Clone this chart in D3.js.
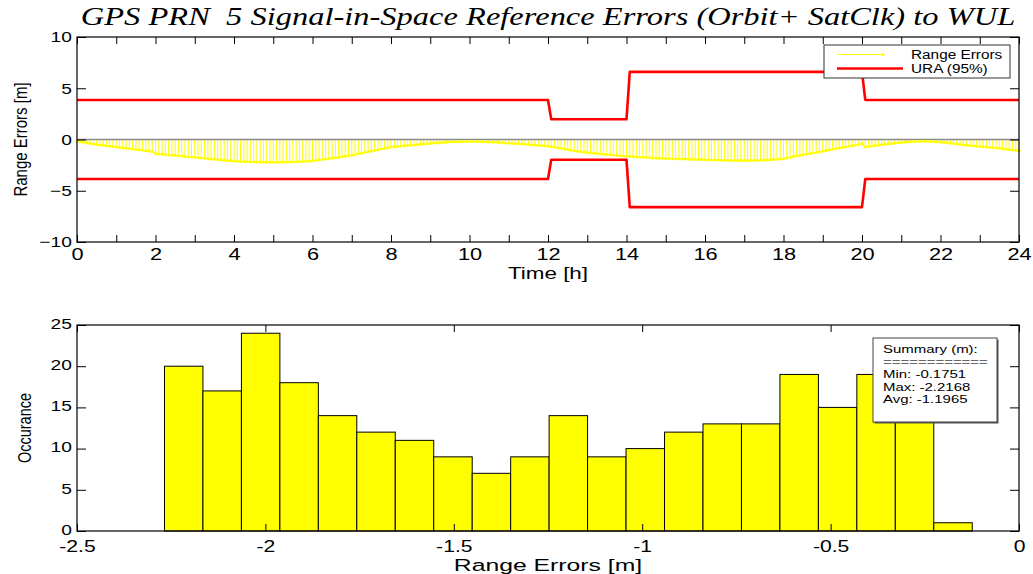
<!DOCTYPE html>
<html>
<head>
<meta charset="utf-8">
<script src="https://cdn.jsdelivr.net/npm/d3@7"></script>
<style>
  body { margin: 0; background: #fff; }
  svg { display: block; }
  text { font-family: "Liberation Sans", Arial, sans-serif; fill: #000; white-space: pre; }
</style>
</head>
<body>
<svg id="chart" width="1033" height="574"></svg>
<script>
// ---- data ----
const chartTitle = "GPS PRN  5 Signal-in-Space Reference Errors (Orbit+ SatClk) to WUL";

// Range errors [m], one sample every 5 minutes from 00:00 to 24:00
const sampleMinutes = 5;
const rangeErrors = [
  -0.18,-0.23,-0.28,-0.33,-0.38,-0.43,-0.48,-0.53,-0.57,-0.61,-0.65,-0.69,
  -0.73,-0.77,-0.81,-0.85,-0.89,-0.93,-0.97,-1.01,-1.05,-1.09,-1.13,-1.17,
  -1.38,-1.41,-1.44,-1.47,-1.50,-1.53,-1.56,-1.59,-1.62,-1.65,-1.68,-1.71,
  -1.74,-1.77,-1.81,-1.84,-1.87,-1.90,-1.93,-1.96,-1.99,-2.02,-2.05,-2.08,
  -2.10,-2.12,-2.14,-2.15,-2.16,-2.17,-2.18,-2.19,-2.20,-2.20,-2.21,-2.21,
  -2.2168,-2.21,-2.21,-2.20,-2.20,-2.19,-2.18,-2.17,-2.16,-2.15,-2.13,-2.11,
  -2.08,-2.05,-1.98,-1.95,-1.91,-1.87,-1.83,-1.78,-1.73,-1.68,-1.63,-1.58,
  -1.53,-1.46,-1.40,-1.33,-1.27,-1.20,-1.13,-1.07,-1.00,-0.93,-0.87,-0.80,
  -0.74,-0.71,-0.68,-0.65,-0.62,-0.59,-0.56,-0.53,-0.50,-0.47,-0.44,-0.41,
  -0.38,-0.35,-0.33,-0.31,-0.29,-0.27,-0.25,-0.23,-0.22,-0.21,-0.20,-0.19,
  -0.19,-0.19,-0.19,-0.20,-0.21,-0.22,-0.24,-0.26,-0.28,-0.30,-0.32,-0.34,
  -0.36,-0.38,-0.40,-0.42,-0.44,-0.46,-0.48,-0.50,-0.53,-0.56,-0.59,-0.62,
  -0.65,-0.70,-0.75,-0.80,-0.86,-0.92,-0.98,-1.04,-1.09,-1.14,-1.19,-1.24,
  -1.28,-1.31,-1.34,-1.37,-1.40,-1.43,-1.46,-1.49,-1.52,-1.55,-1.58,-1.61,
  -1.64,-1.66,-1.68,-1.70,-1.72,-1.74,-1.76,-1.78,-1.80,-1.82,-1.83,-1.84,
  -1.85,-1.86,-1.87,-1.88,-1.89,-1.90,-1.91,-1.92,-1.93,-1.94,-1.95,-1.96,
  -1.97,-1.98,-1.99,-2.00,-2.01,-2.02,-2.03,-2.04,-2.04,-2.05,-2.05,-2.05,
  -2.05,-2.05,-2.05,-2.04,-2.04,-2.03,-2.02,-2.00,-1.98,-1.96,-1.93,-1.90,
  -1.87,-1.80,-1.73,-1.66,-1.61,-1.55,-1.49,-1.43,-1.37,-1.31,-1.26,-1.20,
  -1.14,-1.08,-1.02,-0.96,-0.90,-0.84,-0.78,-0.73,-0.67,-0.61,-0.55,-0.48,
  -0.42,-0.74,-0.69,-0.64,-0.59,-0.55,-0.51,-0.47,-0.43,-0.39,-0.35,-0.32,
  -0.29,-0.26,-0.24,-0.22,-0.20,-0.19,-0.18,-0.1751,-0.18,-0.19,-0.21,-0.23,
  -0.26,-0.29,-0.32,-0.36,-0.40,-0.44,-0.48,-0.52,-0.56,-0.59,-0.62,-0.65,
  -0.68,-0.71,-0.74,-0.77,-0.80,-0.83,-0.86,-0.90,-0.94,-0.98,-1.02,-1.06,
  -1.10
];

// URA (95%) bound [m]: breakpoints in hours and the bound value
const uraHours  = [0, 12.0, 12.083, 14.0, 14.083, 20.0, 20.083, 24];
const uraValues = [3.86, 3.86, 1.97, 1.97, 6.6, 6.6, 3.86, 3.86];

// Histogram of range errors
const histCenters = [-2.2168,-2.1147,-2.0126,-1.9105,-1.8085,-1.7064,-1.6043,
  -1.5022,-1.4001,-1.2980,-1.1960,-1.0939,-0.9918,-0.8897,-0.7876,-0.6855,
  -0.5834,-0.4814,-0.3793,-0.2772,-0.1751];
const histCounts = [20,17,24,18,14,12,11,9,7,9,14,9,10,12,13,13,19,15,19,22,1];

const legendLabels = ["Range Errors", "URA (95%)"];
const summaryLines = ["Summary (m):", "============", "Min: -0.1751", "Max: -2.2168", "Avg: -1.1965"];

const topXTicks = d3.range(0, 25, 1);
const topYTicks = [-10, -5, 0, 5, 10];
const botXTicks = [-2.5, -2, -1.5, -1, -0.5, 0];
const botYTicks = [0, 5, 10, 15, 20, 25];

// ---- layout ----
const svg = d3.select("#chart");
const SX = 1.28;               // horizontal text stretch
const left = 77, right = 1019;
const top1 = { y0: 37, y1: 242 };
const top2 = { y0: 325, y1: 531 };

const yellow = "#ffff00", red = "#ff0000";

function stretch(sel) { sel.attr("transform", `scale(${SX},1)`); }

// ---- title ----
svg.append("text")
  .attr("transform", `translate(${(left + right) / 2},25) scale(1.3,1)`)
  .attr("text-anchor", "middle")
  .style("font-family", "'Liberation Serif', 'Times New Roman', serif")
  .style("font-style", "italic")
  .style("font-size", "25px")
  .text(chartTitle);

// ================= time series panel =================
const x1 = d3.scaleLinear().domain([0, 24]).range([left, right]);
const y1 = d3.scaleLinear().domain([-10, 10]).range([top1.y1, top1.y0]);
const g1 = svg.append("g");

const samples = rangeErrors.map((v, i) => ({ t: i * sampleMinutes / 60, v }));

// stems
g1.append("g").selectAll("line").data(samples).join("line")
  .attr("x1", d => x1(d.t)).attr("x2", d => x1(d.t))
  .attr("y1", y1(0)).attr("y2", d => y1(d.v))
  .attr("stroke", yellow).attr("stroke-width", 1);

// stem baseline
g1.append("line")
  .attr("x1", left).attr("x2", right)
  .attr("y1", y1(0)).attr("y2", y1(0))
  .attr("stroke", "#8a8a8a").attr("stroke-width", 1.5);

// error line with point markers
g1.append("path").datum(samples)
  .attr("d", d3.line().x(d => x1(d.t)).y(d => y1(d.v)))
  .attr("fill", "none").attr("stroke", yellow).attr("stroke-width", 1.5);
g1.append("g").selectAll("circle").data(samples).join("circle")
  .attr("cx", d => x1(d.t)).attr("cy", d => y1(d.v)).attr("r", 1.5)
  .attr("fill", yellow);

// URA bounds (+/-)
const uraPts = uraHours.map((h, i) => ({ t: h, v: uraValues[i] }));
const uraLine = d3.line().x(d => x1(d.t));
[1, -1].forEach(s => {
  g1.append("path").datum(uraPts)
    .attr("d", uraLine.y(d => y1(s * d.v)))
    .attr("fill", "none").attr("stroke", red).attr("stroke-width", 2.6)
    .attr("stroke-linejoin", "round");
});

// axes
function axisStyle(g) {
  g.select(".domain").remove();
  g.selectAll(".tick line").attr("stroke", "#000");
  g.selectAll(".tick text").call(stretch);
}
g1.append("g").attr("transform", `translate(0,${top1.y1})`)
  .call(d3.axisBottom(x1).tickValues(topXTicks).tickSize(-7).tickPadding(6)
    .tickFormat(d => d % 2 === 0 ? d : ""))
  .call(axisStyle)
  .call(g => g.selectAll("text").style("font-size", "17px"));
g1.append("g").attr("transform", `translate(0,${top1.y0})`)
  .call(d3.axisTop(x1).tickValues(topXTicks).tickSize(-7).tickFormat(""))
  .call(axisStyle);
g1.append("g").attr("transform", `translate(${left},0)`)
  .call(d3.axisLeft(y1).tickValues(topYTicks).tickSize(-9).tickPadding(4))
  .call(axisStyle)
  .call(g => g.selectAll("text").style("font-size", "15px"));
g1.append("g").attr("transform", `translate(${right},0)`)
  .call(d3.axisRight(y1).tickValues(topYTicks).tickSize(-9).tickFormat(""))
  .call(axisStyle);
g1.append("rect")
  .attr("x", left).attr("y", top1.y0)
  .attr("width", right - left).attr("height", top1.y1 - top1.y0)
  .attr("fill", "none").attr("stroke", "#000").attr("stroke-width", 1.2);

// axis labels
svg.append("text")
  .attr("transform", `translate(${(left + right) / 2},279) scale(1.4,1)`)
  .attr("text-anchor", "middle").style("font-size", "16px")
  .text("Time [h]");
svg.append("text")
  .attr("transform", `translate(27,${(top1.y0 + top1.y1) / 2}) scale(${SX},1) rotate(-90)`)
  .attr("text-anchor", "middle").style("font-size", "15px")
  .text("Range Errors [m]");

// legend
const lg = svg.append("g").attr("transform", "translate(824,45)");
lg.append("rect").attr("width", 186).attr("height", 33)
  .attr("fill", "#fff").attr("stroke", "#333").attr("stroke-width", 1);
lg.append("line").attr("x1", 13).attr("x2", 59).attr("y1", 9.5).attr("y2", 9.5)
  .attr("stroke", yellow).attr("stroke-width", 1);
lg.append("circle").attr("cx", 59).attr("cy", 9.5).attr("r", 1.5).attr("fill", yellow);
lg.append("line").attr("x1", 13).attr("x2", 79).attr("y1", 23.5).attr("y2", 23.5)
  .attr("stroke", red).attr("stroke-width", 2.6);
lg.selectAll("text.lab").data(legendLabels).join("text").attr("class", "lab")
  .attr("transform", (d, i) => `translate(87,${14 + i * 14}) scale(${SX},1)`)
  .style("font-size", "12px")
  .text(d => d);

// ================= histogram panel =================
const x2 = d3.scaleLinear().domain([-2.5, 0]).range([left, right]);
const y2 = d3.scaleLinear().domain([0, 25]).range([top2.y1, top2.y0]);
const g2 = svg.append("g");
const binW = histCenters[1] - histCenters[0];

g2.append("g").selectAll("rect").data(histCenters).join("rect")
  .attr("x", d => x2(d - binW / 2))
  .attr("width", d => x2(d + binW / 2) - x2(d - binW / 2))
  .attr("y", (d, i) => y2(histCounts[i]))
  .attr("height", (d, i) => y2(0) - y2(histCounts[i]))
  .attr("fill", yellow).attr("stroke", "#000").attr("stroke-width", 1);

g2.append("g").attr("transform", `translate(0,${top2.y1})`)
  .call(d3.axisBottom(x2).tickValues(botXTicks).tickSize(-7).tickPadding(9)
    .tickFormat(d => d))
  .call(axisStyle)
  .call(g => g.selectAll("text").style("font-size", "16.5px"));
g2.append("g").attr("transform", `translate(0,${top2.y0})`)
  .call(d3.axisTop(x2).tickValues(botXTicks).tickSize(-7).tickFormat(""))
  .call(axisStyle);
g2.append("g").attr("transform", `translate(${left},0)`)
  .call(d3.axisLeft(y2).tickValues(botYTicks).tickSize(-9).tickPadding(4))
  .call(axisStyle)
  .call(g => g.selectAll("text").style("font-size", "15px").attr("dy", "0.22em"));
g2.append("g").attr("transform", `translate(${right},0)`)
  .call(d3.axisRight(y2).tickValues(botYTicks).tickSize(-9).tickFormat(""))
  .call(axisStyle);
g2.append("rect")
  .attr("x", left).attr("y", top2.y0)
  .attr("width", right - left).attr("height", top2.y1 - top2.y0)
  .attr("fill", "none").attr("stroke", "#000").attr("stroke-width", 1.2);

svg.append("text")
  .attr("transform", `translate(${(left + right) / 2},571) scale(1.5,1)`)
  .attr("text-anchor", "middle").style("font-size", "16.5px")
  .text("Range Errors [m]");
svg.append("text")
  .attr("transform", `translate(31,${(top2.y0 + top2.y1) / 2}) scale(${SX},1) rotate(-90)`)
  .attr("text-anchor", "middle").style("font-size", "14.5px")
  .text("Occurance");

// summary box
const sb = svg.append("g").attr("transform", "translate(873,338)");
sb.append("rect").attr("x", 1.5).attr("y", 1.5).attr("width", 124).attr("height", 84)
  .attr("fill", "#555");
sb.append("rect").attr("width", 124).attr("height", 84)
  .attr("fill", "#fff").attr("stroke", "#444").attr("stroke-width", 1);
sb.selectAll("text").data(summaryLines).join("text")
  .attr("transform", (d, i) => `translate(10,${15 + i * 12.5}) scale(${SX},1)`)
  .style("font-size", "11.7px")
  .style("fill", (d, i) => i === 1 ? "#666" : "#000")
  .text(d => d);
</script>
</body>
</html>
